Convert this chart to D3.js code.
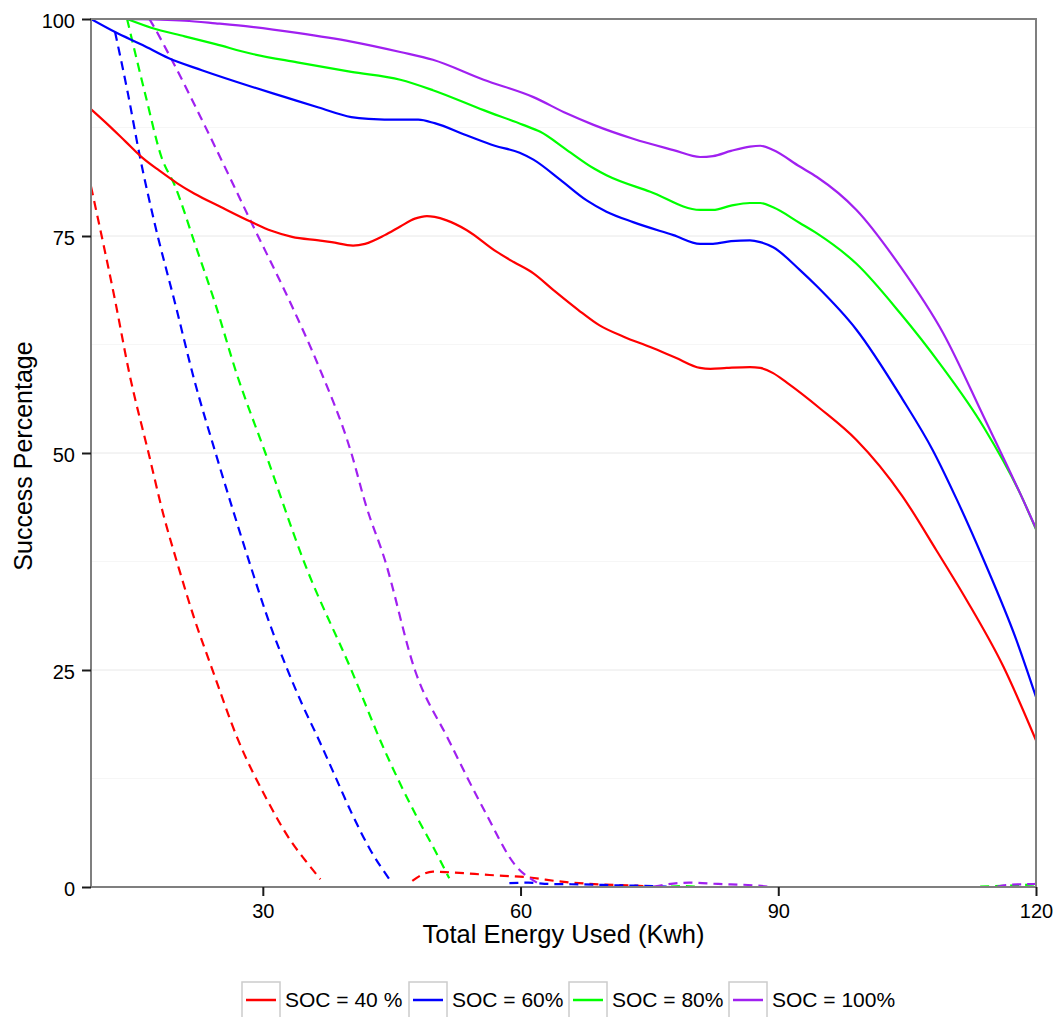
<!DOCTYPE html>
<html>
<head>
<meta charset="utf-8">
<script src="https://cdn.jsdelivr.net/npm/d3@7"></script>
<style>
  html, body { margin: 0; padding: 0; background: #ffffff; }
  text { font-family: "Liberation Sans", Arial, Helvetica, sans-serif; }
</style>
</head>
<body>
<svg id="chart" width="1057" height="1017"></svg>
<script>
// ---------------- data ----------------
const seriesNames = ["SOC = 40 %", "SOC = 60%", "SOC = 80%", "SOC = 100%"];
const seriesColors = ["#ff0000", "#0000ff", "#00ff00", "#a020f0"];

const xTicks = [30, 60, 90, 120];
const yTicks = [0, 25, 50, 75, 100];
const yMinor = [12.5, 37.5, 62.5, 87.5];

// solid curves [energy, success %]
const soc40Solid = [[10,89.6],[12,87.8],[14,85.9],[16,84.0],[18,82.5],[20,81.1],[22,79.9],[25,78.4],[28.7,76.6],[31,75.6],[33.4,74.9],[36.5,74.5],[38,74.3],[40.5,73.9],[41.9,74.1],[44.2,75.1],[46,76.1],[47.7,77.0],[49.1,77.3],[50,77.2],[51.4,76.8],[53.7,75.7],[57.2,73.2],[59.2,72.0],[61.5,70.7],[63.8,68.8],[66.7,66.5],[69.2,64.7],[72,63.4],[75.1,62.2],[78,61.0],[80.9,59.8],[82.1,59.7],[84,59.8],[86.7,59.9],[87.9,59.8],[89.4,59.2],[91,58.1],[94.9,55.1],[99.1,51.5],[104.4,45.1],[108.4,38.8],[111.9,33.1],[116.2,25.4],[120,16.9]];
const soc60Solid = [[10,100],[12.8,98.5],[16,97],[19,95.5],[22.9,94.1],[28.7,92.2],[32.6,91.0],[36.5,89.8],[40.3,88.7],[42.3,88.5],[46,88.4],[48.1,88.4],[50,88.0],[53.7,86.6],[57,85.4],[59.9,84.6],[61.5,83.8],[64.6,81.5],[67.7,79.1],[70,77.8],[73.1,76.6],[77.8,75.1],[80.9,74.1],[82.4,74.1],[84.5,74.4],[86.7,74.5],[87.9,74.3],[89.4,73.7],[92.5,71.1],[94.5,69.2],[99.1,64.2],[104.4,56.3],[108,50.3],[110.8,44.6],[113.9,37.7],[117.7,28.5],[120,21.9]];
const soc80Solid = [[14.2,100],[17,99],[20.9,98.0],[24.5,97.1],[28.7,96.0],[34,95],[40.3,93.9],[46,93.0],[49.8,91.8],[55.7,89.5],[60.3,87.8],[62.3,87.0],[65.4,84.9],[68.5,82.8],[70,82.0],[75.1,80.1],[80.9,78.0],[82.4,78.0],[84.5,78.5],[86.7,78.8],[87.9,78.8],[89.4,78.3],[92.5,76.5],[94.5,75.3],[99.1,71.8],[104.2,66.1],[108.8,60.3],[113.9,53.0],[118.5,44.6],[120,41.2]];
const soc100Solid = [[14.2,100],[20.9,99.8],[24.5,99.5],[28.7,99.1],[34,98.4],[40.3,97.4],[46,96.2],[49.8,95.3],[55.7,93.0],[61.5,91.0],[65.4,89.1],[68.5,87.8],[73.1,86.2],[77.8,84.9],[80.9,84.1],[82.4,84.2],[84.5,84.8],[86.7,85.3],[87.9,85.4],[89.4,84.9],[92.5,83.0],[94.5,81.8],[99.1,78.0],[104.2,71.5],[109.2,63.8],[113.9,54.2],[118.5,44.6],[120,41.3]];

// dashed curves (null = gap, value out of range)
const soc40Dash = [[10,80.7],[12.8,67.6],[14.5,59],[16.7,50.0],[18.4,43],[20.2,36.8],[22,31],[24.0,25.4],[27.1,17.0],[30.3,10.4],[33.4,5.1],[35,3],[36.7,0.9],[42,null],[47.4,0.7],[48.5,1.4],[49.8,1.77],[51.8,1.69],[56.4,1.38],[60.9,1.11],[64.8,0.61],[69.2,0.3],[73.2,0.15],[75.2,0.05]];
const soc60Dash = [[12.8,98.5],[14.3,91.4],[15.7,84.1],[17.4,76.5],[19.8,67.2],[22,58.5],[24.5,50.0],[26.5,43.5],[28.7,36.6],[30.6,30.9],[32.8,25.2],[34.6,21.0],[36.5,17.0],[38.4,12.8],[40.3,8.6],[42.5,4.3],[44.8,0.8],[50,null],[58.7,0.45],[60.9,0.5],[63.3,0.35],[67.3,0.3],[71.2,0.19],[74.2,0.15],[77,0.05]];
const soc80Dash = [[14.2,100],[16.3,91.4],[18.2,84.1],[19.8,80.7],[22.1,74.1],[24.4,67.4],[27,59],[30.3,50.0],[34.9,37.2],[40.3,25.0],[44.2,15.7],[48.1,7.75],[50,4.3],[51.7,1.0],[65,null],[77.5,0.05],[79,0.1],[80.5,0.05],[100,null],[113.5,0.05],[116,0.12],[118,0.2],[120,0.3]];
const soc100Dash = [[16.8,100],[17.1,99.5],[19.4,95.3],[23.3,87.6],[28.7,76.5],[33.4,66.9],[36.5,60],[40.3,50.0],[42,44],[44.2,37.7],[47.7,25.0],[51.6,17.0],[55.9,8.6],[59.4,2.5],[61.9,0.5],[68,null],[75.5,0.05],[77,0.3],[79.6,0.5],[83.0,0.35],[87.0,0.2],[88.8,0.05],[100,null],[115.5,0.05],[116.5,0.23],[120,0.35]];

const solidSeries = [soc40Solid, soc60Solid, soc80Solid, soc100Solid];
const dashSeries = [soc40Dash, soc60Dash, soc80Dash, soc100Dash];

// ---------------- layout ----------------
const svg = d3.select("#chart");
svg.append("rect").attr("width", 1057).attr("height", 1017).attr("fill", "#ffffff");

const L = 91, R = 1036, T = 19, B = 887;
const x = d3.scaleLinear().domain([10, 120]).range([L, R]);
const y = d3.scaleLinear().domain([0, 100]).range([B, T]);

svg.append("defs").append("clipPath").attr("id", "clip")
  .append("rect").attr("x", L).attr("y", T).attr("width", R - L).attr("height", B - T);

// grid
const grid = svg.append("g");
grid.selectAll("line.minor").data(yMinor).join("line")
  .attr("x1", L).attr("x2", R).attr("y1", d => y(d)).attr("y2", d => y(d))
  .attr("stroke", "#f6f6f6").attr("stroke-width", 1);
grid.selectAll("line.major").data(yTicks.filter(d => d > 0 && d < 100)).join("line")
  .attr("x1", L).attr("x2", R).attr("y1", d => y(d)).attr("y2", d => y(d))
  .attr("stroke", "#e8e8e8").attr("stroke-width", 1);

// lines
const line = d3.line()
  .defined(d => d[1] !== null)
  .x(d => x(d[0])).y(d => y(d[1]))
  .curve(d3.curveMonotoneX);

const plot = svg.append("g").attr("clip-path", "url(#clip)");
dashSeries.forEach((s, i) => {
  plot.append("path").datum(s).attr("d", line)
    .attr("fill", "none").attr("stroke", seriesColors[i])
    .attr("stroke-width", 2.2).attr("stroke-dasharray", "9,6");
});
solidSeries.forEach((s, i) => {
  plot.append("path").datum(s).attr("d", line)
    .attr("fill", "none").attr("stroke", seriesColors[i])
    .attr("stroke-width", 2.2);
});

// panel border
svg.append("rect").attr("x", L).attr("y", T).attr("width", R - L).attr("height", B - T)
  .attr("fill", "none").attr("stroke", "#7f7f7f").attr("stroke-width", 2);

// axes
const xAxis = d3.axisBottom(x).tickValues(xTicks).tickSize(9).tickPadding(8).tickFormat(d3.format("d"));
const gx = svg.append("g").attr("transform", `translate(0,${B})`).call(xAxis);
gx.select(".domain").remove();
gx.selectAll(".tick line").attr("stroke", "#1a1a1a").attr("stroke-width", 2);
gx.selectAll(".tick text").attr("font-size", 20).attr("fill", "#000")
  .attr("font-family", "Liberation Sans, Arial, sans-serif").attr("dy", null).attr("y", 31);

const yAxis = d3.axisLeft(y).tickValues(yTicks).tickSize(9).tickPadding(7).tickFormat(d3.format("d"));
const gy = svg.append("g").attr("transform", `translate(${L},0)`).call(yAxis);
gy.select(".domain").remove();
gy.selectAll(".tick line").attr("stroke", "#1a1a1a").attr("stroke-width", 2);
gy.selectAll(".tick text").attr("font-size", 20).attr("fill", "#000")
  .attr("font-family", "Liberation Sans, Arial, sans-serif").attr("dy", null).attr("y", 8.5).attr("x", -16);

// axis titles
svg.append("text").attr("x", (L + R) / 2).attr("y", 943).attr("text-anchor", "middle")
  .attr("font-size", 25.5).attr("fill", "#000").text("Total Energy Used (Kwh)");
svg.append("text").attr("transform", `translate(32,${(T + B) / 2 + 3}) rotate(-90)`)
  .attr("text-anchor", "middle").attr("font-size", 25).attr("fill", "#000").text("Success Percentage");

// legend
const legendX = [242, 409, 569, 729];
const leg = svg.append("g");
seriesNames.forEach((name, i) => {
  const g = leg.append("g").attr("transform", `translate(${legendX[i]},982)`);
  g.append("rect").attr("x", 0).attr("y", 0).attr("width", 38).attr("height", 40)
    .attr("fill", "#ffffff").attr("stroke", "#cccccc").attr("stroke-width", 1.5);
  g.append("line").attr("x1", 4).attr("x2", 34).attr("y1", 18).attr("y2", 18)
    .attr("stroke", seriesColors[i]).attr("stroke-width", 2.5);
  g.append("text").attr("x", 43).attr("y", 25).attr("font-size", 21).attr("fill", "#000").text(name);
});
</script>
</body>
</html>
